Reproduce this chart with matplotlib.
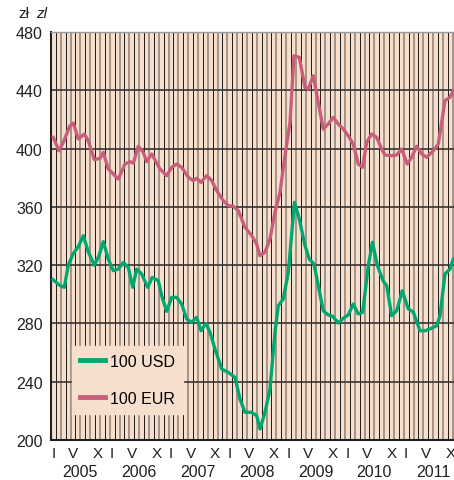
import matplotlib
matplotlib.use("Agg")
import matplotlib.pyplot as plt
from matplotlib import transforms

# --- dane (miesiące od I 2005, kurs w zł) ---
EUR_M = [0.47, 1.63, 2.51, 3.88, 4.55, 5.57, 6.80, 7.61, 8.84, 10.0, 10.67, 11.69,
         12.39, 13.73, 15.10, 16.12, 16.80, 17.82, 18.84, 19.53, 20.55, 22.24, 23.61,
         24.63, 25.65, 26.67, 28.02, 29.04, 29.73, 30.61, 31.78, 32.80, 33.82, 35.16,
         36.18, 37.20, 38.22, 39.59, 40.96, 41.98, 42.65, 43.67, 44.69, 45.71, 46.73,
         47.76, 48.78, 49.59, 50.67, 51.84, 52.51, 53.53, 54.55, 55.57, 56.59, 57.61,
         58.63, 59.65, 60.67, 61.69, 62.71, 63.61, 64.43, 65.45, 66.47, 67.49, 68.16,
         69.53, 70.55, 71.57, 72.71, 73.61, 74.63, 75.65, 76.67, 78.02, 79.04, 79.73,
         80.41, 81.43, 82.10]
EUR_V = [407.7, 398.5, 404.3, 415.7, 417.5, 406.6, 410.0, 405.4, 392.4, 393.3, 397.4, 386.0,
         383.7, 379.1, 389.4, 391.0, 390.0, 401.6, 397.4, 391.0, 396.3, 386.0, 381.4,
         387.1, 389.4, 387.1, 380.3, 378.0, 379.6, 376.8, 381.4, 378.0, 371.1, 364.3,
         360.8, 360.4, 357.4, 346.0, 340.2, 334.5, 326.5, 328.8, 337.9, 356.3, 370.0,
         395.1, 418.0, 463.7, 462.6, 442.0, 440.9, 450.0, 431.7, 413.4, 416.9, 421.4,
         416.9, 413.4, 408.8, 403.1, 389.4, 387.1, 404.3, 410.0, 407.7, 399.7, 395.6,
         395.1, 395.6, 399.7, 389.4, 394.0, 401.6, 396.3, 394.0, 398.5, 403.1, 418.0,
         432.9, 435.2, 439.7]

USD_M = [0.40, 1.84, 2.71, 3.53, 4.55, 5.57, 6.59, 7.61, 8.84, 9.80, 10.67, 11.69,
         12.71, 13.73, 14.76, 15.78, 16.67, 17.49, 18.51, 19.73, 20.67, 21.90, 22.59,
         23.61, 24.63, 25.65, 26.67, 27.69, 28.71, 29.73, 30.61, 31.63, 32.45, 33.47,
         34.84, 36.18, 37.55, 38.57, 39.59, 40.96, 41.98, 42.65, 43.67, 44.69, 45.71,
         46.39, 47.41, 48.43, 49.69, 50.67, 51.84, 52.71, 53.67, 54.55, 55.57, 56.59,
         57.49, 58.63, 59.65, 60.67, 61.69, 62.71, 63.61, 64.76, 65.61, 66.63, 67.82,
         68.51, 69.53, 70.55, 71.69, 72.92, 73.94, 75.31, 76.33, 77.35, 78.71, 79.39,
         80.41, 81.43, 82.10]
USD_V = [310.0, 306.0, 304.8, 320.0, 328.0, 332.6, 340.2, 329.2, 320.0, 326.5, 336.1, 324.2,
         316.2, 317.3, 321.9, 318.5, 304.8, 317.3, 313.9, 304.8, 311.6, 309.3, 299.0,
         288.3, 297.9, 297.9, 293.3, 283.0, 280.8, 284.2, 275.0, 280.0, 273.9, 262.4,
         248.7, 246.4, 243.0, 228.1, 219.0, 219.0, 216.7, 207.5, 219.0, 234.9, 273.9,
         292.2, 296.8, 315.0, 363.1, 351.7, 333.4, 324.2, 320.8, 305.9, 288.7, 285.8,
         284.9, 280.3, 283.5, 285.8, 293.3, 286.5, 287.6, 319.6, 335.7, 319.6, 309.0,
         305.9, 285.3, 288.7, 302.4, 290.0, 287.8, 275.0, 275.0, 276.2, 278.4, 285.3,
         313.9, 317.3, 324.2]

YEARS = ["2005", "2006", "2007", "2008", "2009", "2010", "2011"]
MONTH_LABELS = ["I", "V", "X"]
MONTH_POS = [0.5, 4.5, 9.5]
Y_TICKS = [200, 240, 280, 320, 360, 400, 440, 480]

BG = "#f6e0cd"
GREEN = "#00a870"
PINK = "#c95e7b"
INK = "#231f20"

plt.rcParams['font.family'] = ['Liberation Sans', 'DejaVu Sans']

fig = plt.figure(figsize=(4.54, 4.81), dpi=100)
ax = fig.add_axes([51 / 454, 1 - 441 / 481, 403 / 454, 408 / 481])
ax.set_facecolor(BG)
ax.set_xlim(0, 82.25)
ax.set_ylim(200, 480)

# pionowe linie co miesiąc, na przemian czarne i szare
for m in range(1, 83):
    if m % 2:
        ax.axvline(m, color="#1e1a18", lw=0.7, zorder=1)
    else:
        ax.axvline(m, color="#a08d83", lw=1.3, zorder=1)
for y in Y_TICKS[1:-1]:
    ax.axhline(y, color="#3a3330", lw=1.2, zorder=1.5)

ax.plot(USD_M, USD_V, color=GREEN, lw=2.4, zorder=3, label="100 USD")
ax.plot(EUR_M, EUR_V, color=PINK, lw=2.4, zorder=3, label="100 EUR")

ax.set_yticks(Y_TICKS)
ax.tick_params(axis="y", length=0, pad=6, labelsize=11.5, colors=INK)
ticks = [12 * i + p for i in range(len(YEARS)) for p in MONTH_POS]
ax.set_xticks(ticks)
ax.set_xticklabels(MONTH_LABELS * len(YEARS))
ax.tick_params(axis="x", length=0, pad=4, labelsize=11, colors=INK)

trans = transforms.blended_transform_factory(ax.transData, ax.transAxes)
for i, yr in enumerate(YEARS):
    ax.text(12 * i + 6, -0.077, yr, transform=trans, ha="center", va="center",
            fontsize=11.5, color=INK)

for s in ["left", "bottom"]:
    ax.spines[s].set_color(INK)
    ax.spines[s].set_linewidth(1.5)
ax.spines["top"].set_color("#9a9a9a")
ax.spines["top"].set_linewidth(1.0)
ax.spines["right"].set_visible(False)

fig.text(18 / 454, 1 - 14 / 481, "zł", fontsize=11, va="center", color=INK)
fig.text(36 / 454, 1 - 14 / 481, "zl", fontsize=11, va="center", style="italic",
         color=INK)

leg = ax.legend(loc="lower left", bbox_to_anchor=(0.052, 0.064), frameon=True,
                facecolor=BG, edgecolor=BG, framealpha=1, fancybox=False,
                fontsize=11.5, handlelength=1.6, handletextpad=0.3,
                labelspacing=1.4, borderpad=0.5, borderaxespad=0)
for line in leg.get_lines():
    line.set_linewidth(3.5)
leg.set_zorder(5)

fig.savefig("out.png", dpi=100)
